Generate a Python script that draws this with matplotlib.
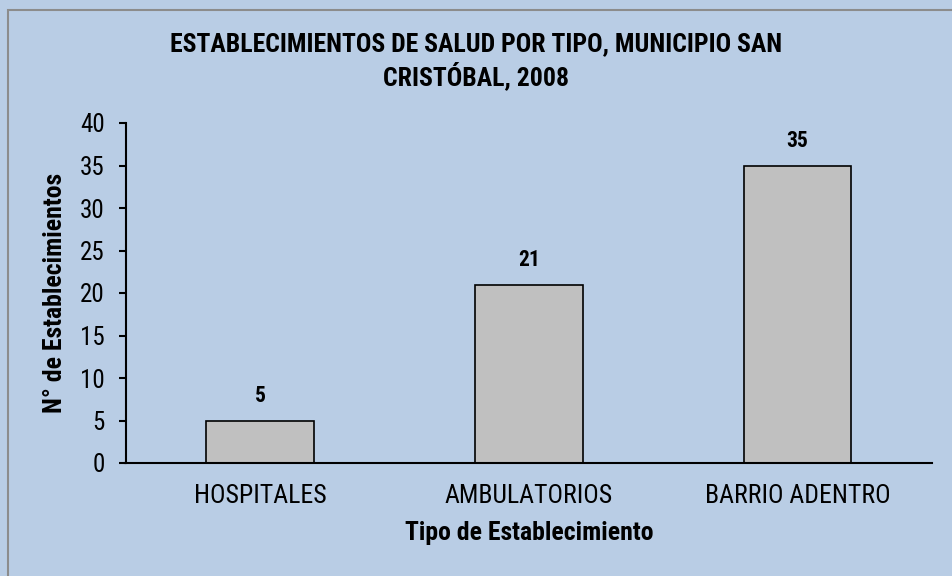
import matplotlib
matplotlib.use("Agg")
import matplotlib.pyplot as plt
from matplotlib.patches import Rectangle

tipos = ["HOSPITALES", "AMBULATORIOS", "BARRIO ADENTRO"]
cantidades = [5, 21, 35]
y_ticks = [0, 5, 10, 15, 20, 25, 30, 35, 40]

titulo = "ESTABLECIMIENTOS DE SALUD POR TIPO, MUNICIPIO SAN\nCRISTÓBAL, 2008"
eje_x = "Tipo de Establecimiento"
eje_y = "N° de Establecimientos"

plt.rcParams["font.family"] = ["Roboto Condensed", "DejaVu Sans"]

fondo = "#b9cde5"
W, H = 952, 576
fig = plt.figure(figsize=(W / 100, H / 100), dpi=100, facecolor=fondo)
ax = fig.add_axes([125.5 / W, 1 - 463 / H, 806.5 / W, 340 / H])
ax.set_facecolor(fondo)

# marco gris alrededor del grafico
fig.patches.append(Rectangle((8 / W, -0.01), 1.0, 1.0 - 10 / H + 0.01,
                             transform=fig.transFigure, fill=False,
                             edgecolor="#8c8c8c", linewidth=1.5))

x = list(range(len(tipos)))
ax.bar(x, cantidades, width=0.40, color="#c0c0c0",
       edgecolor="black", linewidth=1.2)
for xi, v in zip(x, cantidades):
    ax.text(xi, v + 1.6, str(v), ha="center", va="bottom",
            fontsize=15.5, fontweight="bold")

ax.set_xlim(-0.5, 2.5)
ax.set_ylim(0, 40)
ax.set_yticks(y_ticks)
ax.set_xticks(x)
ax.set_xticklabels(tipos)
ax.tick_params(axis="y", labelsize=18, length=5, width=1.5, pad=10)
ax.tick_params(axis="x", labelsize=18.5, length=0, pad=15)

for s in ["top", "right"]:
    ax.spines[s].set_visible(False)
ax.spines["left"].set_linewidth(1.5)
ax.spines["bottom"].set_linewidth(1.5)

fig.text(529 / W, 1 - 533 / H, eje_x, ha="center", va="center",
         fontsize=18.5, fontweight="bold")
fig.text(55 / W, 1 - 293 / H, eje_y, ha="center", va="center",
         rotation=90, fontsize=18.5, fontweight="bold")

fig.text(476 / W, 1 - 61 / H, titulo, ha="center", va="center",
         fontsize=18.5, fontweight="bold", linespacing=1.2)

fig.savefig("out.png", dpi=100, facecolor=fondo)
